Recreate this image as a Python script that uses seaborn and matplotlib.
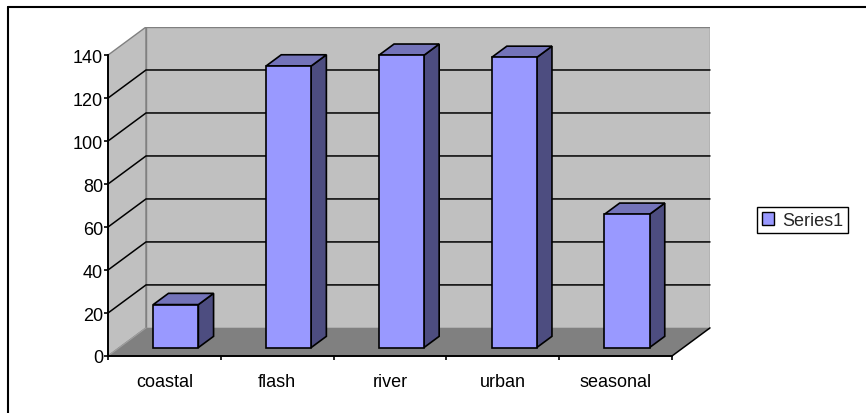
import matplotlib
matplotlib.use("Agg")
import numpy as np
from matplotlib import pyplot as plt
from matplotlib.patches import Polygon, Patch
from matplotlib.lines import Line2D
import seaborn as sns

categories = ["coastal", "flash", "river", "urban", "seasonal"]
values = [20, 131, 136, 135, 62]
y_ticks = [0, 20, 40, 60, 80, 100, 120, 140]
series_name = "Series1"

sns.set_style("white")
plt.rcParams["font.family"] = ["Liberation Sans", "DejaVu Sans"]
plt.rcParams["font.size"] = 13

# 3d look: depth offset of the back wall, in data units
DX = 0.337
DY = 13.07
FRONT = 0.3      # bars start this far into the depth
DEPTH = 0.4      # and are this deep
YMAX = 140

BAR = "#9999FF"
SIDE = "#4D4D80"
TOP = "#7373B9"
WALL = "#C0C0C0"
FLOOR = "#808080"

W, H = 866, 414
fig = plt.figure(figsize=(W / 100, H / 100), dpi=100)
ax = fig.add_axes([108 / W, (H - 357) / H, 602 / W, 329 / H])

sns.barplot(x=categories, y=values, color=BAR, width=0.4, saturation=1,
            edgecolor="black", linewidth=1.2, ax=ax, zorder=5)

# walls and floor
ax.add_patch(Polygon([(-0.5, 0), (-0.5, YMAX), (-0.5 + DX, YMAX + DY), (-0.5 + DX, DY)],
                     closed=True, facecolor=WALL, edgecolor="#808080", lw=1, zorder=1))
ax.add_patch(Polygon([(-0.5 + DX, DY), (-0.5 + DX, YMAX + DY), (4.5 + DX, YMAX + DY), (4.5 + DX, DY)],
                     closed=True, facecolor=WALL, edgecolor="#808080", lw=1, zorder=1))
ax.add_patch(Polygon([(-0.5, 0), (4.5, 0), (4.5 + DX, DY), (-0.5 + DX, DY)],
                     closed=True, facecolor=FLOOR, edgecolor="none", zorder=1))
ax.plot([4.5, 4.5 + DX], [0, DY], color="black", lw=1.1, zorder=2, clip_on=False)
ax.plot([-0.5, -0.5 + DX], [0, DY], color="#A0A0A0", lw=0.8, zorder=2, clip_on=False)

for v in y_ticks[1:-1]:
    ax.plot([-0.5, -0.5 + DX, 4.5 + DX], [v, v + DY, v + DY], color="black", lw=1.1,
            zorder=2, clip_on=False)

# move the front faces into the depth and add side / top faces
for p, v in zip(ax.patches[:len(values)], values):
    x0 = p.get_x() + FRONT * DX
    w = p.get_width()
    y0 = FRONT * DY
    p.set_x(x0)
    p.set_y(y0)
    ddx, ddy = DEPTH * DX, DEPTH * DY
    ax.add_patch(Polygon([(x0 + w, y0), (x0 + w + ddx, y0 + ddy), (x0 + w + ddx, y0 + ddy + v), (x0 + w, y0 + v)],
                         closed=True, facecolor=SIDE, edgecolor="black", lw=1.2, zorder=4))
    ax.add_patch(Polygon([(x0, y0 + v), (x0 + w, y0 + v), (x0 + w + ddx, y0 + v + ddy), (x0 + ddx, y0 + v + ddy)],
                         closed=True, facecolor=TOP, edgecolor="black", lw=1.2, zorder=4))

ax.set_xlim(-0.5, 4.5 + DX)
ax.set_ylim(0, YMAX + DY)
ax.set_xlabel("")
ax.set_ylabel("")
ax.patch.set_visible(False)

for s in ["top", "right"]:
    ax.spines[s].set_visible(False)
ax.spines["left"].set_bounds(0, YMAX)
ax.spines["bottom"].set_bounds(-0.5, 4.5)
for s in ["left", "bottom"]:
    ax.spines[s].set_color("black")
    ax.spines[s].set_linewidth(1.4)
    ax.spines[s].set_zorder(6)

ax.set_yticks(y_ticks)
ax.tick_params(axis="y", left=True, length=3, width=1.2, pad=0.5, colors="black")
ax.set_xticks(np.arange(len(categories) + 1) - 0.5)
ax.set_xticklabels([""] * (len(categories) + 1))
ax.set_xticks(np.arange(len(categories)), minor=True)
ax.set_xticklabels(categories, minor=True)
ax.tick_params(axis="x", which="major", bottom=True, length=3, width=1.2, colors="black")
ax.tick_params(axis="x", which="minor", bottom=True, length=0, pad=12, colors="black")

fig.legend(handles=[Patch(facecolor=BAR, edgecolor="black", label=series_name)],
           loc="upper left", bbox_to_anchor=(757 / W, 1 - 208 / H), frameon=True,
           fancybox=False, edgecolor="black", framealpha=1, borderaxespad=0,
           handlelength=0.7, handleheight=0.7, handletextpad=0.45, borderpad=0.25)

# chart area border (only top and left edges fall inside the picture)
fig.add_artist(Line2D([8 / W, 1], [1 - 7.5 / H, 1 - 7.5 / H], color="black", lw=1.5))
fig.add_artist(Line2D([8 / W, 8 / W], [0, 1 - 7.5 / H], color="black", lw=1.5))

fig.savefig("out.png", dpi=100)
plt.close()
